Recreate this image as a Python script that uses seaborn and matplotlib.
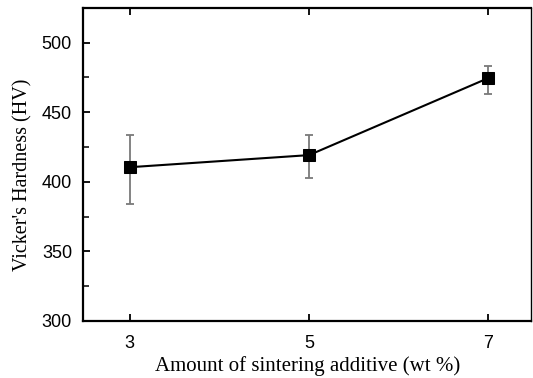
import matplotlib
matplotlib.use("Agg")
import matplotlib.pyplot as plt
from matplotlib.ticker import MultipleLocator
import seaborn as sns
import pandas as pd

additive = [3, 5, 7]
hardness = [410.5, 419.2, 474.6]
err_low = [26.3, 16.1, 11.3]
err_high = [23.3, 14.1, 8.9]
x_ticks = [3, 5, 7]
y_ticks = [300, 350, 400, 450, 500]

sns.set_style("ticks")
plt.rcParams['font.family'] = ['Liberation Sans', 'DejaVu Sans']
plt.rcParams['text.color'] = 'black'
plt.rcParams['xtick.color'] = 'black'
plt.rcParams['ytick.color'] = 'black'
plt.rcParams['axes.labelcolor'] = 'black'
plt.rcParams['axes.edgecolor'] = 'black'

df = pd.DataFrame({"x": additive, "y": hardness})

fig = plt.figure(figsize=(5.33, 3.78), dpi=100)
ax = fig.add_axes([0.156, 0.151, 0.841, 0.828])

ax.errorbar(additive, hardness, yerr=[err_low, err_high], fmt='none',
            ecolor='#7a7a7a', elinewidth=1.3, capsize=2.7, capthick=1.3, zorder=2)
sns.lineplot(data=df, x="x", y="y", ax=ax, color='black', linewidth=1.5,
             marker='s', markersize=9, markeredgecolor='black',
             markerfacecolor='black', zorder=3)

ax.set_xlim(2.48, 7.48)
ax.set_ylim(300, 525)
ax.set_xticks(x_ticks)
ax.set_xticklabels([str(v) for v in x_ticks])
ax.set_yticks(y_ticks)
ax.yaxis.set_minor_locator(MultipleLocator(25))

ax.tick_params(axis='both', which='major', direction='in', length=5, width=1.3,
               labelsize=13, colors='black')
ax.tick_params(axis='y', which='major', pad=8)
ax.tick_params(axis='x', which='major', pad=10)
ax.tick_params(axis='y', which='minor', direction='in', length=4, width=1.1,
               colors='black')
ax.tick_params(axis='x', top=True, labeltop=False)

for s in ['left', 'bottom', 'top']:
    ax.spines[s].set_linewidth(1.6)
ax.spines['right'].set_linewidth(1.0)

ax.set_xlabel("Amount of sintering additive (wt %)", family='Liberation Serif',
              fontsize=15, labelpad=3)
ax.set_ylabel("Vicker's Hardness (HV)", family='Liberation Serif',
              fontsize=14.5, labelpad=6)
ax.yaxis.set_label_coords(-0.112, 0.466)

fig.savefig("out.png", dpi=100)
